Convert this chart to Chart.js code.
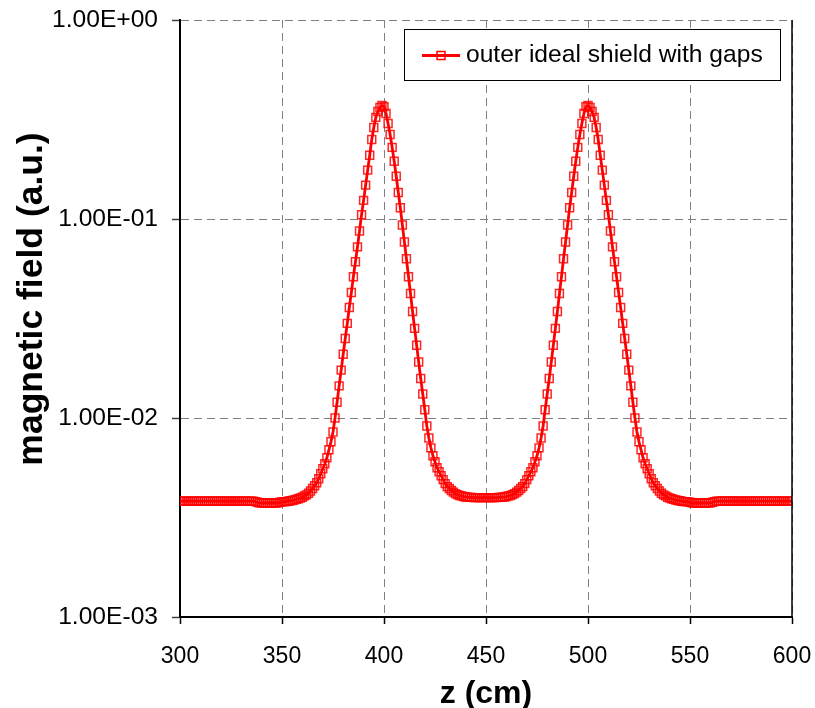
<!DOCTYPE html>
<html>
<head>
<meta charset="utf-8">
<script src="https://cdn.jsdelivr.net/npm/chart.js@4.4.1/dist/chart.umd.min.js"></script>
<style>
  html, body { margin: 0; padding: 0; background: #fff; }
  canvas { display: block; }
</style>
</head>
<body>
<canvas id="fieldChart" width="815" height="708"></canvas>
<script>
// sample grid along the axis: one point per cm from 300 to 600
const zPositions = Array.from({ length: 301 }, (_, i) => 300 + i);

// magnetic field, z = 300 ... 600 cm
const fieldValues = [
    0.00382, 0.00382, 0.00382, 0.00382, 0.00382, 0.00382, 0.00382, 0.00382, 0.00382, 0.00382,
    0.00382, 0.00382, 0.00382, 0.00382, 0.00382, 0.00382, 0.00382, 0.00382, 0.00382, 0.00382,
    0.00382, 0.00382, 0.00382, 0.00382, 0.00382, 0.00382, 0.00382, 0.00382, 0.00382, 0.00382,
    0.00382, 0.00382, 0.00382, 0.00382, 0.00382, 0.00382, 0.00382, 0.00380, 0.00377, 0.00375,
    0.00374, 0.00374, 0.00374, 0.00374, 0.00374, 0.00374, 0.00374, 0.00374, 0.00375, 0.00377,
    0.00379, 0.00380, 0.00380, 0.00382, 0.00384, 0.00385, 0.00387, 0.00390, 0.00393, 0.00396,
    0.00400, 0.00406, 0.00411, 0.00419, 0.00430, 0.00442, 0.00457, 0.00473, 0.00495, 0.00525,
    0.00556, 0.00589, 0.00631, 0.00692, 0.00759, 0.00851, 0.0100, 0.0120, 0.0145, 0.0174,
    0.0209, 0.0251, 0.0299, 0.0359, 0.0427, 0.0513, 0.0610, 0.0724, 0.0871, 0.105,
    0.124, 0.148, 0.176, 0.209, 0.251, 0.288, 0.324, 0.347, 0.363, 0.372,
    0.367, 0.339, 0.302, 0.266, 0.229, 0.195, 0.164, 0.136, 0.114, 0.0933,
    0.0767, 0.0631, 0.0513, 0.0422, 0.0343, 0.0282, 0.0232, 0.0191, 0.0158, 0.0132,
    0.0110, 0.00912, 0.00794, 0.00708, 0.00646, 0.00603, 0.00562, 0.00537, 0.00513, 0.00490,
    0.00468, 0.00452, 0.00442, 0.00432, 0.00424, 0.00417, 0.00412, 0.00408, 0.00406, 0.00403,
    0.00401, 0.00400, 0.00399, 0.00399, 0.00398, 0.00398, 0.00398, 0.00398, 0.00398, 0.00398,
    0.00398, 0.00398, 0.00398, 0.00398, 0.00398, 0.00398, 0.00399, 0.00399, 0.00400, 0.00401,
    0.00403, 0.00406, 0.00408, 0.00412, 0.00417, 0.00424, 0.00432, 0.00442, 0.00452, 0.00468,
    0.00490, 0.00513, 0.00537, 0.00562, 0.00603, 0.00646, 0.00708, 0.00794, 0.00912, 0.0110,
    0.0132, 0.0158, 0.0191, 0.0232, 0.0282, 0.0343, 0.0422, 0.0513, 0.0631, 0.0767,
    0.0933, 0.114, 0.136, 0.164, 0.195, 0.229, 0.266, 0.302, 0.339, 0.367,
    0.372, 0.363, 0.347, 0.324, 0.288, 0.251, 0.209, 0.176, 0.148, 0.124,
    0.105, 0.0871, 0.0724, 0.0610, 0.0513, 0.0427, 0.0359, 0.0299, 0.0251, 0.0209,
    0.0174, 0.0145, 0.0120, 0.0100, 0.00851, 0.00759, 0.00692, 0.00631, 0.00589, 0.00556,
    0.00525, 0.00495, 0.00473, 0.00457, 0.00442, 0.00430, 0.00419, 0.00411, 0.00406, 0.00400,
    0.00396, 0.00393, 0.00390, 0.00387, 0.00385, 0.00384, 0.00382, 0.00380, 0.00380, 0.00379,
    0.00377, 0.00375, 0.00374, 0.00374, 0.00374, 0.00374, 0.00374, 0.00374, 0.00374, 0.00374,
    0.00375, 0.00377, 0.00380, 0.00382, 0.00382, 0.00382, 0.00382, 0.00382, 0.00382, 0.00382,
    0.00382, 0.00382, 0.00382, 0.00382, 0.00382, 0.00382, 0.00382, 0.00382, 0.00382, 0.00382,
    0.00382, 0.00382, 0.00382, 0.00382, 0.00382, 0.00382, 0.00382, 0.00382, 0.00382, 0.00382,
    0.00382, 0.00382, 0.00382, 0.00382, 0.00382, 0.00382, 0.00382, 0.00382, 0.00382, 0.00382,
    0.00382
];

const seriesLabel = 'outer ideal shield with gaps';
const xTickValues = [300, 350, 400, 450, 500, 550, 600];
const yTickValues = [0.001, 0.01, 0.1, 1];
const xTitle = 'z (cm)';
const yTitle = 'magnetic field (a.u.)';

const FONT = "'Liberation Sans', Arial, sans-serif";

// 1.00E-02 style labels
function sciLabel(v) {
    const e = Math.floor(Math.log10(v) + 1e-9);
    const m = (v / Math.pow(10, e)).toFixed(2);
    const sign = e < 0 ? '-' : '+';
    return m + 'E' + sign + String(Math.abs(e)).padStart(2, '0');
}

// boxed legend inside the plot, right border, rotated y title
const excelBits = {
    id: 'excelBits',
    afterDatasetsDraw(chart) {
        const ctx = chart.ctx;
        const area = chart.chartArea;
        ctx.save();
        // right frame line
        ctx.strokeStyle = '#000';
        ctx.lineWidth = 1.5;
        ctx.beginPath();
        ctx.moveTo(area.right, area.top);
        ctx.lineTo(area.right, area.bottom);
        ctx.stroke();

        // legend
        const bx = 404, by = 29, bw = 376, bh = 51;
        ctx.fillStyle = '#fff';
        ctx.fillRect(bx, by, bw, bh);
        ctx.strokeStyle = '#000';
        ctx.lineWidth = 1;
        ctx.strokeRect(bx + 0.5, by + 0.5, bw, bh);
        const ly = by + bh / 2 + 1;
        ctx.strokeStyle = '#ff0000';
        ctx.lineWidth = 2.8;
        ctx.beginPath();
        ctx.moveTo(422, ly);
        ctx.lineTo(460, ly);
        ctx.stroke();
        ctx.lineWidth = 1.5;
        ctx.strokeRect(437, ly - 4, 8, 8);
        ctx.fillStyle = '#000';
        ctx.font = '24.6px ' + FONT;
        ctx.textAlign = 'left';
        ctx.textBaseline = 'middle';
        ctx.fillText(chart.data.datasets[0].label, 466, ly);
        ctx.restore();
    },
    afterDraw(chart) {
        const ctx = chart.ctx;
        ctx.save();
        ctx.translate(32, 299);
        ctx.rotate(-Math.PI / 2);
        ctx.fillStyle = '#000';
        ctx.font = 'bold 35.5px ' + FONT;
        ctx.textAlign = 'center';
        ctx.textBaseline = 'middle';
        ctx.fillText(yTitle, 0, 0);
        ctx.restore();
    }
};

const ctx = document.getElementById('fieldChart').getContext('2d');
new Chart(ctx, {
    type: 'line',
    data: {
        datasets: [{
            label: seriesLabel,
            data: zPositions.map((z, i) => ({ x: z, y: fieldValues[i] })),
            borderColor: '#ff0000',
            borderWidth: 2.8,
            tension: 0,
            pointStyle: 'rect',
            pointRadius: 5.6,
            pointBorderWidth: 1.5,
            pointBorderColor: 'rgba(255, 0, 0, 0.85)',
            pointBackgroundColor: 'rgba(255, 255, 255, 0)',
            fill: false
        }]
    },
    options: {
        responsive: false,
        animation: false,
        events: [],
        layout: {
            padding: { top: 20, right: 23, left: 0, bottom: 0 }
        },
        plugins: {
            legend: { display: false },
            tooltip: { enabled: false }
        },
        scales: {
            x: {
                type: 'linear',
                min: 300,
                max: 600,
                afterBuildTicks: (scale) => {
                    scale.ticks = xTickValues.map(v => ({ value: v }));
                },
                afterFit: (scale) => {
                    scale.height = 91;
                    scale.paddingLeft = 0;
                    scale.paddingRight = 0;
                },
                grid: {
                    color: '#808080',
                    lineWidth: 1,
                    tickLength: 7,
                    tickColor: '#000',
                    tickWidth: 1.5,
                    tickBorderDash: []
                },
                border: { color: '#000', width: 2, dash: [8, 5] },
                ticks: {
                    color: '#000',
                    padding: 19,
                    maxRotation: 0,
                    font: { family: FONT, size: 23 }
                },
                title: {
                    display: true,
                    text: xTitle,
                    color: '#000',
                    font: { family: FONT, size: 32, weight: 'bold', lineHeight: 1 },
                    padding: { top: 0, bottom: -2 }
                }
            },
            y: {
                type: 'logarithmic',
                min: 0.001,
                max: 1,
                afterBuildTicks: (scale) => {
                    scale.ticks = yTickValues.map(v => ({ value: v }));
                },
                afterFit: (scale) => {
                    scale.width = 180;
                    scale.paddingTop = 0;
                    scale.paddingBottom = 0;
                },
                grid: {
                    color: '#808080',
                    lineWidth: 1,
                    tickLength: 8,
                    tickColor: '#404040',
                    tickWidth: 1.5,
                    tickBorderDash: []
                },
                border: { color: '#000', width: 2, dash: [8, 5] },
                ticks: {
                    color: '#000',
                    padding: 14,
                    font: { family: FONT, size: 24.6 },
                    callback: (v) => sciLabel(v)
                },
                title: { display: false }
            }
        }
    },
    plugins: [excelBits]
});
</script>
</body>
</html>
